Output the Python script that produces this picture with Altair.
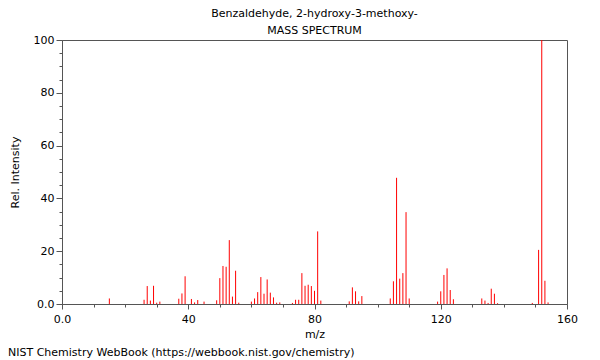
import altair as alt
import pandas as pd

mz = [15, 26, 27, 28, 29, 30, 31, 37, 38, 39, 41, 42, 43, 45,
      49, 50, 51, 52, 53, 54, 55, 56, 60, 61, 62, 63, 64, 65, 66, 67, 68, 69,
      73, 74, 75, 76, 77, 78, 79, 80, 81, 82, 91, 92, 93, 94, 95,
      104, 105, 106, 107, 108, 109, 110, 119, 120, 121, 122, 123, 124,
      133, 134, 135, 136, 137, 138, 149, 151, 152, 153, 154]
intensity = [2.1, 1.6, 6.8, 1.3, 6.9, 0.5, 0.9, 2.0, 4.0, 10.5, 1.9, 0.6, 1.5, 0.9,
             1.4, 9.8, 14.4, 14.1, 24.2, 2.8, 12.6, 0.5, 0.9, 2.1, 4.5, 10.2, 3.9, 9.3, 4.3, 2.5, 0.5, 0.6,
             0.4, 1.6, 1.6, 11.7, 6.9, 7.3, 6.8, 5.0, 27.5, 1.3, 1.0, 6.3, 4.8, 1.0, 3.0,
             2.1, 8.6, 47.8, 9.6, 11.7, 34.8, 2.1, 0.9, 4.8, 11.0, 13.5, 5.3, 1.8,
             2.1, 1.3, 0.4, 5.8, 3.9, 0.3, 0.4, 20.5, 100, 8.8, 0.6]

title_lines = ["Benzaldehyde, 2-hydroxy-3-methoxy-", "MASS SPECTRUM"]
footer = "NIST Chemistry WebBook (https://webbook.nist.gov/chemistry)"
x_ticks = [v for v in range(0, 161, 10)]
y_ticks = [v for v in range(0, 101, 5)]

df = pd.DataFrame({"mz": mz, "I": intensity, "zero": [0] * len(mz)})

FONT = "DejaVu Sans"

x_axis = alt.Axis(
    values=x_ticks,
    labelExpr="datum.value == 0 ? '0.0' : (datum.value % 40 == 0 ? datum.label : '')",
    tickSize={"condition": {"test": "datum.value % 40 === 0", "value": 5}, "value": 3},
    grid=False, domainColor="#555", tickColor="#555",
    labelFont=FONT, labelFontSize=11, labelColor="black", labelPadding=4,
    labelFlush=False, labelOverlap=False,
    title="m/z", titleFont=FONT, titleFontSize=11, titleFontWeight="normal",
    titleColor="black", titlePadding=4,
)
y_axis = alt.Axis(
    values=y_ticks,
    labelExpr="datum.value == 0 ? '0.0' : (datum.value % 20 == 0 ? datum.label : '')",
    tickSize={"condition": {"test": "datum.value % 20 === 0", "value": 6}, "value": 3},
    grid=False, domainColor="#555", tickColor="#555",
    labelFont=FONT, labelFontSize=11, labelColor="black", labelPadding=2,
    labelFlush=False, labelOverlap=False,
    title="Rel. Intensity", titleFont=FONT, titleFontSize=11, titleFontWeight="normal",
    titleColor="black", titlePadding=13,
)

bars = alt.Chart(df).mark_rule(color="#ff0000", strokeWidth=1).encode(
    x=alt.X("mz:Q", scale=alt.Scale(domain=[0, 160], nice=False, zero=True), axis=x_axis),
    y=alt.Y("I:Q", scale=alt.Scale(domain=[0, 100], nice=False), axis=y_axis),
    y2="zero:Q",
)

foot = alt.Chart(pd.DataFrame({"t": [footer]})).mark_text(
    align="left", baseline="middle", font=FONT, fontSize=11, color="black"
).encode(text="t:N", x=alt.value(-54), y=alt.value(313))

chart = alt.layer(bars, foot).properties(
    width=505, height=264,
    autosize=alt.AutoSizeParams(type="none"),
    padding={"left": 54, "top": 32, "right": 25, "bottom": 56},
    title=alt.TitleParams(
        text=title_lines, font=FONT, fontSize=11, fontWeight="normal",
        color="black", anchor="middle", baseline="bottom", lineHeight=17, offset=-13,
    ),
).configure_view(stroke="#555", strokeWidth=1)

chart.save("out.html", embed_options={"renderer": "svg", "actions": False})
